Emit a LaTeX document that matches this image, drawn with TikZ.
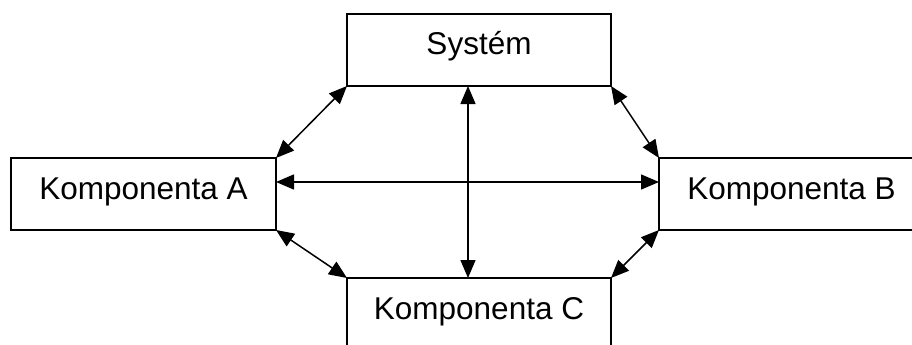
\documentclass[tikz,border=0pt]{standalone}
\usepackage{fontspec}
\setmainfont{Liberation Sans}
\usetikzlibrary{arrows.meta}
\tikzset{
  box/.style={draw=black, line width=1.6pt, minimum height=72pt, inner sep=0pt, outer sep=0pt, text height=23pt, text depth=13pt, font=\fontsize{31.5}{36}\selectfont},
  link/.style={line width=1.5pt, {Triangle[length=18pt,width=15pt]}-{Triangle[length=18pt,width=15pt]}}
}
\begin{document}
\begin{tikzpicture}[x=1pt,y=-1pt]
\useasboundingbox (0,0) rectangle (912,345);
\clip (0,0) rectangle (912,345);
\fill[white] (0,0) rectangle (912,345);
\node[box, minimum width=264pt] (s) at (479,50) {Systém};
\node[box, minimum width=265pt] (a) at (143.5,194) {Komponenta A};
\node[box, minimum width=265pt] (b) at (791.5,194) {Komponenta B};
\node[box, minimum width=264pt] (c) at (479,314) {Komponenta C};
\coordinate (vx) at (468,0);
\coordinate (hy) at (0,182);
\draw[link] (a.north east) -- (s.south west);
\draw[link] (s.south east) -- (b.north west);
\draw[link] (a.south east) -- (c.north west);
\draw[link] (c.north east) -- (b.south west);
\draw[link] (s.south -| vx) -- (c.north -| vx);
\draw[link] (a.east |- hy) -- (b.west |- hy);
\end{tikzpicture}
\end{document}
